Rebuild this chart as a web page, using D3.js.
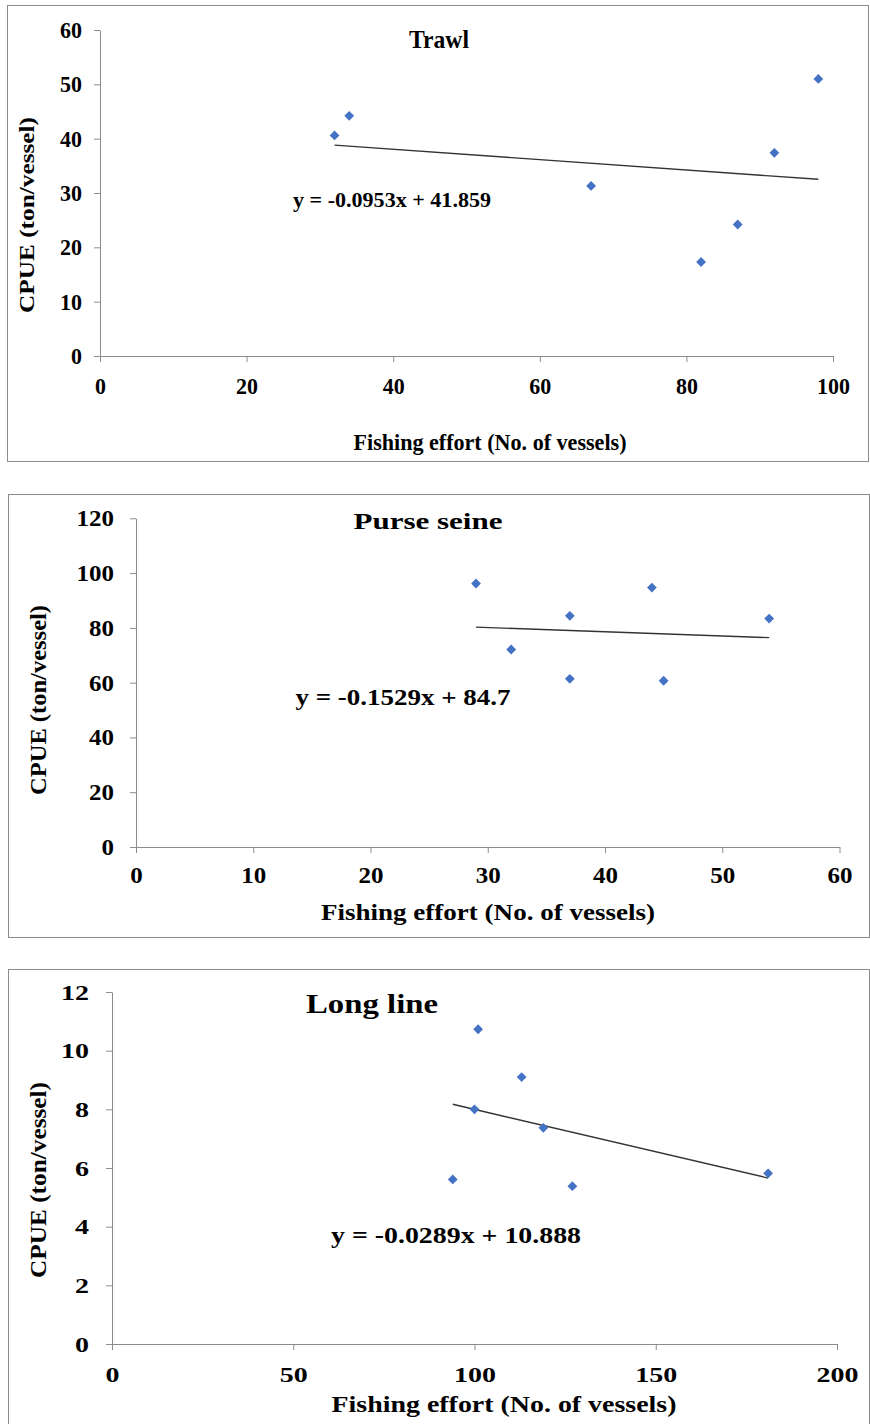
<!DOCTYPE html>
<html>
<head>
<meta charset="utf-8">
<script src="https://cdn.jsdelivr.net/npm/d3@7/dist/d3.min.js"></script>
<style>
  body { margin: 0; background: #fff; }
  text { font-family: "Liberation Serif", "Times New Roman", serif; font-weight: bold; fill: #000; }
</style>
</head>
<body>
<div id="chart"></div>
<script>
// Trawl
let trawlEffort = [32, 34, 67, 82, 87, 92, 98];
let trawlCpue = [40.6, 44.2, 31.3, 17.3, 24.2, 37.4, 51.0];
let trawlFit = [-0.0953, 41.859];
let trawlXTicks = [0, 20, 40, 60, 80, 100];
let trawlYTicks = [0, 10, 20, 30, 40, 50, 60];

// Purse seine
let purseEffort = [29, 32, 37, 37, 44, 45, 54];
let purseCpue = [96.2, 72.1, 84.4, 61.4, 94.7, 60.7, 83.4];
let purseFit = [-0.1529, 84.7];
let purseXTicks = [0, 10, 20, 30, 40, 50, 60];
let purseYTicks = [0, 20, 40, 60, 80, 100, 120];

// Long line
let longEffort = [94, 100, 101, 113, 119, 127, 181];
let longCpue = [5.61, 8.0, 10.73, 9.1, 7.37, 5.38, 5.82];
let longFit = [-0.0289, 10.888];
let longXTicks = [0, 50, 100, 150, 200];
let longYTicks = [0, 2, 4, 6, 8, 10, 12];

let width = 870;
let height = 1424;

const svg = d3.select("#chart")
  .append("svg")
  .attr("width", width)
  .attr("height", height);

function eqText(fit) {
  return `y = ${fit[0]}x + ${fit[1]}`;
}

// text helper: squeeze/stretch to a measured width
function fit(sel, w) {
  if (w) sel.attr("textLength", w).attr("lengthAdjust", "spacingAndGlyphs");
  return sel;
}

const panels = [
  {
    title: "Trawl", effort: trawlEffort, cpue: trawlCpue, coef: trawlFit,
    xTicks: trawlXTicks, yTicks: trawlYTicks,
    frame: [7.5, 5.5, 861, 456],
    xr: [100, 833], yr: [356, 30],
    tickFont: 23, digitW: 11, xLabY: 22, yLabX: -18,
    titlePos: [439, 48, 25, 60],
    eqPos: [392, 207, 22, 198],
    xtPos: [490, 450, 23, 273],
    ytPos: [27, 215, 21, 196]
  },
  {
    title: "Purse seine", effort: purseEffort, cpue: purseCpue, coef: purseFit,
    xTicks: purseXTicks, yTicks: purseYTicks,
    frame: [8.5, 494.5, 861, 443],
    xr: [136, 839.5], yr: [847, 518.3],
    tickFont: 23, digitW: 12.5, xLabY: 20, yLabX: -22,
    titlePos: [428, 529, 24, 149],
    eqPos: [403, 705, 23, 215],
    xtPos: [488, 920, 23, 334],
    ytPos: [38, 700, 23, 190]
  },
  {
    title: "Long line", effort: longEffort, cpue: longCpue, coef: longFit,
    xTicks: longXTicks, yTicks: longYTicks,
    frame: [8.5, 969.5, 861, 470],
    xr: [112, 837], yr: [1344, 992],
    tickFont: 22, digitW: 14, xLabY: 22, yLabX: -23,
    titlePos: [372, 1013, 28, 132],
    eqPos: [456, 1243, 23, 250],
    xtPos: [504, 1412, 23, 345],
    ytPos: [38, 1180, 23, 196]
  }
];

panels.forEach((p) => {
  const g = svg.append("g");

  g.append("rect")
    .attr("x", p.frame[0])
    .attr("y", p.frame[1])
    .attr("width", p.frame[2])
    .attr("height", p.frame[3])
    .attr("fill", "none")
    .attr("stroke", "#8c8c8c")
    .attr("stroke-width", 1);

  const xScale = d3.scaleLinear()
    .domain([p.xTicks[0], p.xTicks[p.xTicks.length - 1]])
    .range(p.xr);
  const yScale = d3.scaleLinear()
    .domain([p.yTicks[0], p.yTicks[p.yTicks.length - 1]])
    .range(p.yr);

  const xAxis = g.append("g")
    .attr("transform", `translate(0,${p.yr[0]})`)
    .call(d3.axisBottom(xScale).tickValues(p.xTicks).tickSizeInner(6).tickSizeOuter(0).tickFormat(d3.format("d")));
  const yAxis = g.append("g")
    .attr("transform", `translate(${p.xr[0]},0)`)
    .call(d3.axisLeft(yScale).tickValues(p.yTicks).tickSizeInner(6).tickSizeOuter(0).tickFormat(d3.format("d")));

  [xAxis, yAxis].forEach((ax) => {
    ax.select(".domain").attr("stroke", "#8c8c8c");
    ax.selectAll(".tick line").attr("stroke", "#8c8c8c");
    ax.selectAll(".tick text")
      .attr("font-size", p.tickFont)
      .style("font-family", "'Liberation Serif', 'Times New Roman', serif")
      .style("font-weight", "bold")
      .attr("fill", "#000")
      .each(function () {
        const t = d3.select(this);
        fit(t, t.text().length * p.digitW);
      });
  });
  xAxis.selectAll(".tick text").attr("y", p.xLabY);
  yAxis.selectAll(".tick text").attr("x", p.yLabX);

  // trend line over the observed effort range
  const x0 = d3.min(p.effort);
  const x1 = d3.max(p.effort);
  g.append("line")
    .attr("x1", xScale(x0))
    .attr("y1", yScale(p.coef[0] * x0 + p.coef[1]))
    .attr("x2", xScale(x1))
    .attr("y2", yScale(p.coef[0] * x1 + p.coef[1]))
    .attr("stroke", "#333")
    .attr("stroke-width", 1.4);

  const diamond = d3.symbol().type(d3.symbolSquare).size(48);
  g.selectAll(".pt")
    .data(p.effort.map((e, i) => [e, p.cpue[i]]))
    .enter()
    .append("path")
    .attr("class", "pt")
    .attr("d", diamond)
    .attr("transform", (d) => `translate(${xScale(d[0])},${yScale(d[1])}) rotate(45)`)
    .attr("fill", "#4472c4");

  fit(g.append("text")
    .attr("x", p.titlePos[0])
    .attr("y", p.titlePos[1])
    .attr("text-anchor", "middle")
    .attr("font-size", p.titlePos[2])
    .text(p.title), p.titlePos[3]);

  fit(g.append("text")
    .attr("x", p.eqPos[0])
    .attr("y", p.eqPos[1])
    .attr("text-anchor", "middle")
    .attr("font-size", p.eqPos[2])
    .text(eqText(p.coef)), p.eqPos[3]);

  fit(g.append("text")
    .attr("x", p.xtPos[0])
    .attr("y", p.xtPos[1])
    .attr("text-anchor", "middle")
    .attr("font-size", p.xtPos[2])
    .text("Fishing effort (No. of vessels)"), p.xtPos[3]);

  fit(g.append("text")
    .attr("text-anchor", "middle")
    .attr("transform", `translate(${p.ytPos[0]},${p.ytPos[1]}) rotate(-90)`)
    .attr("dy", "0.35em")
    .attr("font-size", p.ytPos[2])
    .text("CPUE (ton/vessel)"), p.ytPos[3]);
});
</script>
</body>
</html>
